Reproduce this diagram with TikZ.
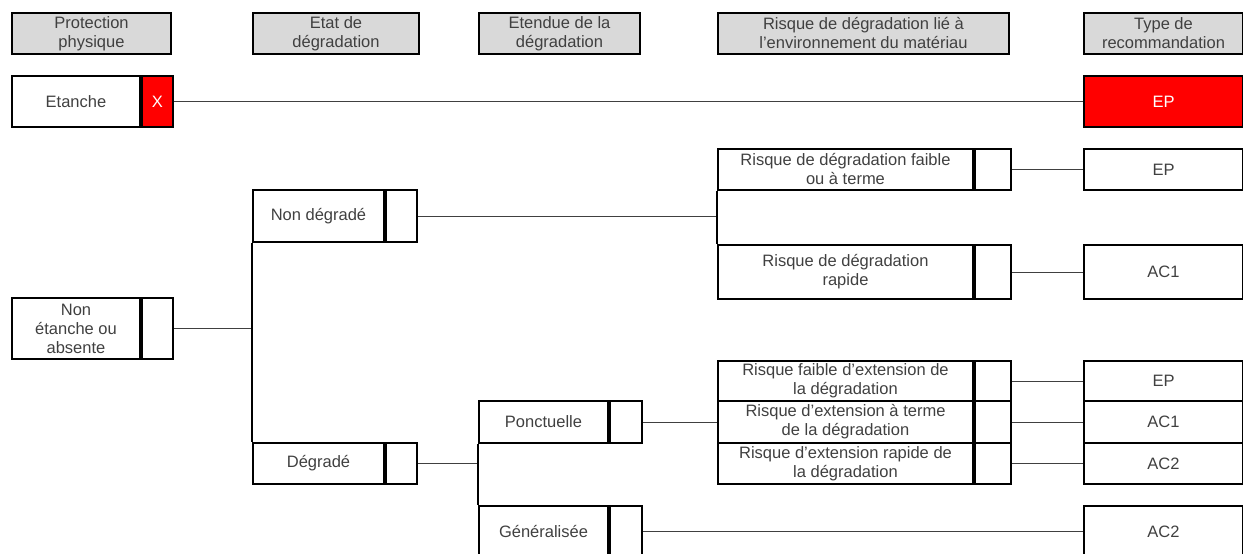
\documentclass[tikz,border=0pt]{standalone}
\usepackage{fontspec}
\setmainfont{Liberation Sans}
\usetikzlibrary{positioning}
\definecolor{txtgray}{HTML}{404040}
\definecolor{hdgray}{HTML}{D9D9D9}
\definecolor{alertred}{HTML}{FF0000}

\begin{document}
\begin{tikzpicture}[x=1pt,y=-1pt,
    box/.style={draw, line width=2pt, anchor=north west, inner sep=0pt, align=center,
      text=txtgray, font=\fontsize{16.5}{19}\selectfont},
    head/.style={box, fill=hdgray},
    alert/.style={box, fill=alertred, text=white},
    link/.style={line width=1pt, txtgray},
    trunk/.style={line width=2pt}]
    \path[use as bounding box, clip] (0,0) rectangle (1243,554);

    \node[head, minimum width=159, minimum height=41] (hprot) at (11,12) {Protection\\physique};
    \node[head, minimum width=166, minimum height=41] (hetat) at (252,12) {Etat de\\dégradation};
    \node[head, minimum width=161, minimum height=41] (hext) at (478,12) {Etendue de la\\dégradation};
    \node[head, minimum width=291, minimum height=41] (hrisk) at (717,12) {Risque de dégradation lié à\\l’environnement du matériau};
    \node[head, minimum width=159, minimum height=41] (htype) at (1083,12) {Type de\\recommandation};

    \node[box, minimum width=128, minimum height=51] (et) at (11,75) {Etanche};
    \node[alert, right=0pt of et, minimum width=31, minimum height=51] (etx) {X};
    \node[alert, minimum width=159, minimum height=51] (rec0) at (1083,75) {EP};

    \node[box, minimum width=128, minimum height=61] (ne) at (11,297) {Non\\étanche ou\\absente};
    \node[box, right=0pt of ne, minimum width=31, minimum height=61] (nex) {};

    \node[box, minimum width=131, minimum height=52] (nd) at (252,189) {Non dégradé};
    \node[box, right=0pt of nd, minimum width=31, minimum height=52] (ndx) {};
    \node[box, minimum width=131, minimum height=41] (dg) at (252,442) {Dégradé};
    \node[box, right=0pt of dg, minimum width=31, minimum height=41] (dgx) {};

    \node[box, minimum width=129, minimum height=42] (po) at (478,400) {Ponctuelle};
    \node[box, right=0pt of po, minimum width=32, minimum height=42] (pox) {};
    \node[box, minimum width=129, minimum height=51] (ge) at (478,505) {Généralisée};
    \node[box, right=0pt of ge, minimum width=32, minimum height=51] (gex) {};

    \node[box, minimum width=255, minimum height=41] (r1) at (717,148) {Risque de dégradation faible\\ou à terme};
    \node[box, right=0pt of r1, minimum width=36, minimum height=41] (r1x) {};
    \node[box, minimum width=255, minimum height=54] (r2) at (717,244) {Risque de dégradation\\rapide};
    \node[box, right=0pt of r2, minimum width=36, minimum height=54] (r2x) {};
    \node[box, minimum width=255, minimum height=40] (r3) at (717,360) {Risque faible d’extension de\\la dégradation};
    \node[box, right=0pt of r3, minimum width=36, minimum height=40] (r3x) {};
    \node[box, minimum width=255, minimum height=42] (r4) at (717,400) {Risque d’extension à terme\\de la dégradation};
    \node[box, right=0pt of r4, minimum width=36, minimum height=42] (r4x) {};
    \node[box, minimum width=255, minimum height=41] (r5) at (717,442) {Risque d’extension rapide de\\la dégradation};
    \node[box, right=0pt of r5, minimum width=36, minimum height=41] (r5x) {};

    \node[box, minimum width=159, minimum height=41] (rec1) at (1083,148) {EP};
    \node[box, minimum width=159, minimum height=54] (rec2) at (1083,244) {AC1};
    \node[box, minimum width=159, minimum height=40] (rec3) at (1083,360) {EP};
    \node[box, minimum width=159, minimum height=42] (rec4) at (1083,400) {AC1};
    \node[box, minimum width=159, minimum height=41] (rec5) at (1083,442) {AC2};
    \node[box, minimum width=159, minimum height=51] (rec6) at (1083,505) {AC2};

    \draw[link] (etx.east) -- (rec0.west);
    \draw[link] (nex.east) -- (nex.east -| nd.west);
    \draw[trunk] (nd.south west) -- (dg.north west);
    \draw[link] (ndx.east) -- (ndx.east -| r1.west);
    \draw[trunk] (r1.south west) -- (r2.north west);
    \draw[link] (dgx.east) -- (dgx.east -| po.west);
    \draw[trunk] (po.south west) -- (ge.north west);
    \draw[link] (pox.east) -- (pox.east -| r4.west);
    \draw[link] (gex.east) -- (gex.east -| rec6.west);
    \draw[link] (r1x.east) -- (rec1.west);
    \draw[link] (r2x.east) -- (rec2.west);
    \draw[link] (r3x.east) -- (rec3.west);
    \draw[link] (r4x.east) -- (rec4.west);
    \draw[link] (r5x.east) -- (rec5.west);
\end{tikzpicture}
\end{document}
